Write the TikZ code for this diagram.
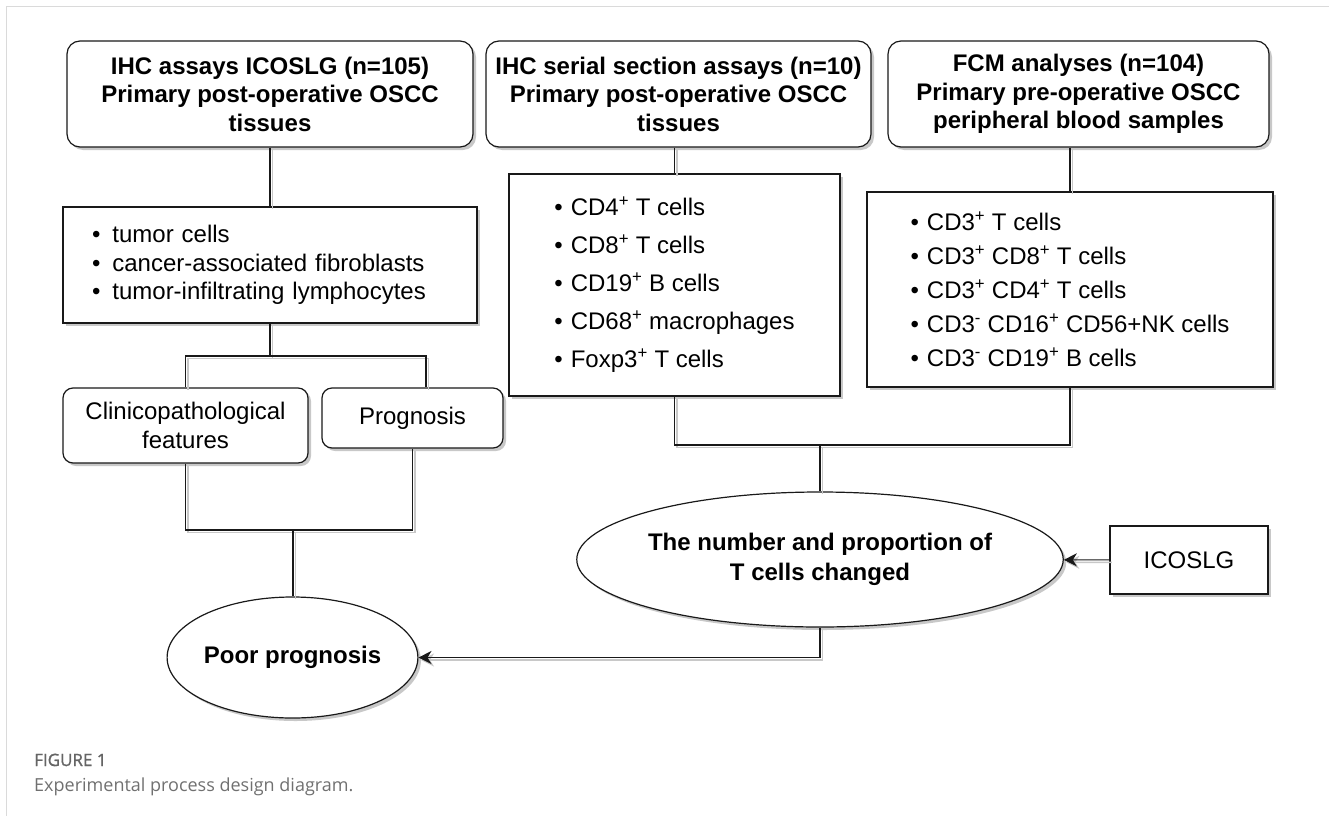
\documentclass[tikz,border=0pt]{standalone}
\usepackage{fontspec}
\setmainfont{Liberation Sans}
\newfontfamily\capfont{Open Sans}
\newfontfamily\capbold[FakeBold=1.2]{Open Sans}
\usetikzlibrary{shapes.geometric,shadows,arrows.meta}

\definecolor{capgray}{RGB}{112,112,112}
\definecolor{framegray}{RGB}{218,218,218}
\definecolor{shadowgray}{RGB}{200,200,200}

\newcommand{\itm}{\textbullet\hspace{8pt}}
\newcommand{\sgn}[1]{\textsuperscript{#1}}

\tikzset{
  dropsh/.style={drop shadow={shadow xshift=3pt,shadow yshift=-3pt,fill=shadowgray,opacity=1}},
  headbox/.style={draw=black!90, line width=1.2pt, fill=white, rounded corners=13pt, dropsh,
    align=center, inner sep=0pt, minimum height=106pt,
    font=\bfseries\fontsize{24}{28.5}\selectfont},
  listbox/.style={draw=black!90, line width=1.2pt, fill=white, dropsh, align=left},
  smallbox/.style={draw=black!90, line width=1.2pt, fill=white, rounded corners=10pt, dropsh,
    align=center, inner sep=0pt, font=\fontsize{24}{29}\selectfont},
  oval/.style={ellipse, draw=black!90, line width=1.2pt, fill=white, dropsh,
    align=center, inner sep=0pt, font=\bfseries\fontsize{24}{30}\selectfont},
  conn/.style={draw=black!90, line width=1.2pt,
    preaction={draw=shadowgray, line width=1.4pt, transform canvas={shift={(2.5pt,-2.5pt)}}}},
  tip/.style={-{Stealth[length=13pt,width=13pt,inset=4pt]}}
}

\begin{document}
\begin{tikzpicture}[x=1pt,y=-1pt]
\useasboundingbox (0,0) rectangle (1329,816);
\draw[framegray, line width=1pt] (1329,7) -- (6,7) -- (6,816);

\node[headbox, minimum width=406pt] (box1) at (270,94) {IHC assays ICOSLG (n=105)\\Primary post-operative OSCC\\tissues};
\node[headbox, minimum width=385pt] (box2) at (678.5,94) {IHC serial section assays (n=10)\\Primary post-operative OSCC\\tissues};
\node[headbox, minimum width=381pt] (box3) at (1078.5,94) {FCM analyses (n=104)\\Primary pre-operative OSCC\\peripheral blood samples};

\node[listbox, text width=356pt, inner xsep=29pt, minimum height=116pt,
  font=\fontsize{24}{28.5}\selectfont] (list1) at (270,265)
  {\textbullet\hspace{12pt}tumor cells\\\textbullet\hspace{12pt}cancer-associated fibroblasts\\\textbullet\hspace{12pt}tumor-infiltrating lymphocytes};
\node[listbox, minimum width=331pt, minimum height=222pt,
  font=\fontsize{24}{38}\selectfont] (list2) at (674.5,285)
  {\itm CD4\sgn{+} T cells\\\itm CD8\sgn{+} T cells\\\itm CD19\sgn{+} B cells\\\itm CD68\sgn{+} macrophages\\\itm Foxp3\sgn{+} T cells};
\node[listbox, minimum width=406pt, minimum height=195pt,
  font=\fontsize{24}{34}\selectfont] (list3) at (1070,289.5)
  {\itm CD3\sgn{+} T cells\\\itm CD3\sgn{+} CD8\sgn{+} T cells\\\itm CD3\sgn{+} CD4\sgn{+} T cells\\\itm CD3\sgn{-} CD16\sgn{+} CD56+NK cells\\\itm CD3\sgn{-} CD19\sgn{+} B cells};

\node[smallbox, minimum width=245pt, minimum height=75pt] (clin) at (185.5,425.5) {Clinicopathological\\features};
\node[smallbox, minimum width=181pt, minimum height=60pt] (prog) at (412.5,418) {Prognosis};

\node[oval, minimum width=211pt, minimum height=121pt] (poor) at (292.5,657.5) {Poor prognosis};
\node[oval, minimum width=405pt, minimum height=135pt] (mid) at (820,559.5) {The number and proportion of\\T cells changed};
\node[listbox, align=center, minimum width=158pt, minimum height=68pt, inner sep=0pt,
  font=\fontsize{24}{29}\selectfont] (icos) at (1189,560) {ICOSLG};

\coordinate (split1) at (270,356);
\coordinate (join1) at (293,530);
\coordinate (join2) at (820,445);

\draw[conn] (box1) -- (list1);
\draw[conn] (list2.north |- box2.south) -- (list2.north);
\draw[conn] (list3.north |- box3.south) -- (list3.north);
\draw[conn] (list1.south) -- (split1);
\draw[conn] (clin.north) |- (split1) -| ([xshift=13.5pt]prog.north);
\draw[conn] (clin.south) |- (join1) -| (prog.south);
\draw[conn] (join1) -- (poor.north -| join1);
\draw[conn] (list2.south) |- (join2) -| (list3.south);
\draw[conn] (join2) -- (mid.north);
\draw[conn, tip] (icos) -- (mid);
\draw[conn, tip] (mid.south) |- (poor.east);

\node[anchor=base west, font=\capbold\fontsize{17}{19}\selectfont, text=capgray!90!black, inner sep=0pt] (fig) at (34,766) {FIGURE 1};
\node[anchor=base west, font=\capfont\fontsize{18}{20}\selectfont, text=capgray, inner sep=0pt] (cap) at (34,791) {Experimental process design diagram.};
\end{tikzpicture}
\end{document}
